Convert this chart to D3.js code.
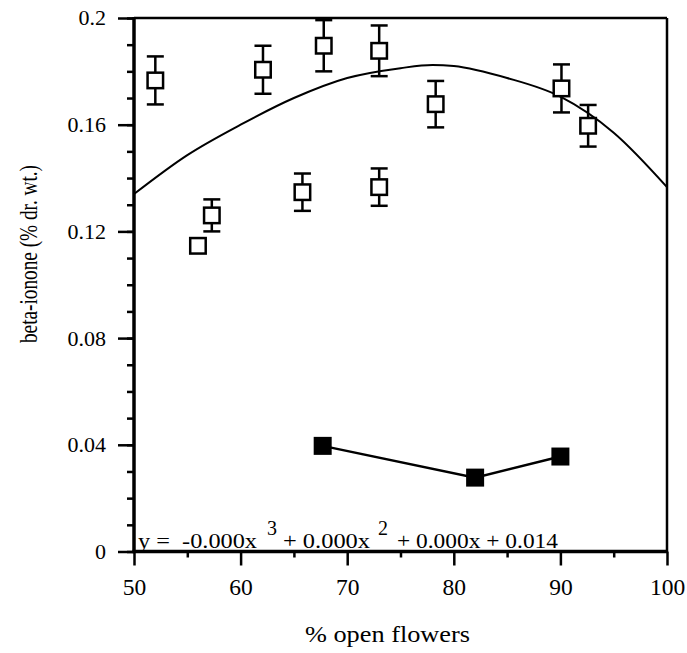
<!DOCTYPE html>
<html>
<head>
<meta charset="utf-8">
<script src="https://cdn.jsdelivr.net/npm/d3@7/dist/d3.min.js"></script>
<style>
  body { margin: 0; background: #fff; }
  svg text { font-family: 'Liberation Serif', 'Times New Roman', 'DejaVu Serif', serif; fill: #000; }
</style>
</head>
<body>
<svg id="chart" width="687" height="653"></svg>
<script>
// open squares (with error bars)
const openX = [52.0, 56.0, 57.3, 62.1, 65.8, 67.8, 73.0, 73.0, 78.3, 90.1, 92.6]
const openY = [0.1766, 0.1146, 0.1260, 0.1806, 0.1347, 0.1896, 0.1877, 0.1366, 0.1677, 0.1736, 0.1596]
const openErr = [0.009, 0, 0.006, 0.009, 0.007, 0.0096, 0.0095, 0.007, 0.0087, 0.009, 0.0078]

// filled squares joined by a line
const filledX = [67.7, 82.0, 90.0]
const filledY = [0.0396, 0.0277, 0.0356]

// fitted curve
const fitX = [50, 55, 60, 65, 70, 75, 78, 80, 85, 90, 95, 100]
const fitY = [0.134, 0.1486, 0.160, 0.170, 0.1775, 0.1812, 0.1824, 0.1820, 0.1775, 0.1705, 0.1570, 0.1366]

const xTicks = [50, 60, 70, 80, 90, 100]
const xTickLabels = ['50', '60', '70', '80', '90', '100']
const yTicks = [0, 0.04, 0.08, 0.12, 0.16, 0.2]
const yTickLabels = ['0', '0.04', '0.08', '0.12', '0.16', '0.2']

const mLeft = 134, mRight = 667, mTop = 18, mBottom = 551.5

const svg = d3.select('#chart')

const x = d3.scaleLinear().domain([50, 100]).range([mLeft, mRight])
const y = d3.scaleLinear().domain([0, 0.2]).range([mBottom, mTop])

// width a number label would have in Times (digits 0.5em, point 0.25em)
const timesWidth = (str, size) => str.split('').reduce((w, c) => w + (c === '.' ? 0.25 : 0.5), 0) * size

// minor ticks
svg.append('g')
  .attr('transform', `translate(${mLeft},0)`)
  .call(d3.axisLeft(y).tickValues(d3.range(0, 0.2001, 0.01)).tickSize(7).tickFormat(''))
  .call(g => g.select('.domain').remove())
  .selectAll('line').attr('stroke-width', 2.5)

svg.append('g')
  .attr('transform', `translate(0,${mBottom})`)
  .call(d3.axisBottom(x).tickValues(d3.range(55, 100, 10)).tickSize(6).tickFormat(''))
  .call(g => g.select('.domain').remove())
  .selectAll('line').attr('stroke-width', 2.5)

// major ticks + labels
const yAxis = svg.append('g')
  .attr('transform', `translate(${mLeft},0)`)
  .call(d3.axisLeft(y).tickValues(yTicks).tickSize(16).tickPadding(12)
    .tickFormat((d, i) => yTickLabels[i]))
yAxis.attr('font-family', null).attr('font-size', null)
yAxis.select('.domain').remove()
yAxis.selectAll('line').attr('stroke-width', 2.5)
yAxis.selectAll('text')
  .attr('font-size', 20.5)
  .attr('dy', '0.34em')
  .attr('textLength', (d, i) => timesWidth(yTickLabels[i], 22))
  .attr('lengthAdjust', 'spacingAndGlyphs')

const xAxis = svg.append('g')
  .attr('transform', `translate(0,${mBottom})`)
  .call(d3.axisBottom(x).tickValues(xTicks).tickSize(14)
    .tickFormat((d, i) => xTickLabels[i]))
xAxis.attr('font-family', null).attr('font-size', null)
xAxis.select('.domain').remove()
xAxis.selectAll('line').attr('stroke-width', 2.5)
xAxis.selectAll('text')
  .attr('font-size', 24)
  .attr('y', 43).attr('dy', 0)
  .attr('textLength', (d, i) => timesWidth(xTickLabels[i], 23.5))
  .attr('lengthAdjust', 'spacingAndGlyphs')

// frame
svg.append('line').attr('x1', mLeft).attr('x2', mRight).attr('y1', mTop).attr('y2', mTop)
  .attr('stroke', '#000').attr('stroke-width', 2.5)
svg.append('line').attr('x1', mRight).attr('x2', mRight).attr('y1', mTop).attr('y2', mBottom)
  .attr('stroke', '#000').attr('stroke-width', 2.5)
svg.append('line').attr('x1', mLeft).attr('x2', mLeft).attr('y1', mTop - 1).attr('y2', mBottom + 1.5)
  .attr('stroke', '#000').attr('stroke-width', 3.5)
svg.append('line').attr('x1', mLeft - 1.5).attr('x2', mRight + 1).attr('y1', mBottom).attr('y2', mBottom)
  .attr('stroke', '#000').attr('stroke-width', 3.5)

// fitted curve
const fit = fitX.map((d, i) => [d, fitY[i]])
svg.append('path')
  .datum(fit)
  .attr('fill', 'none')
  .attr('stroke', '#000')
  .attr('stroke-width', 2)
  .attr('d', d3.line().x(d => x(d[0])).y(d => y(d[1])).curve(d3.curveMonotoneX))

// error bars
const open = openX.map((d, i) => ({ x: d, y: openY[i], e: openErr[i] }))
const eb = svg.append('g').attr('stroke', '#000').attr('stroke-width', 2.5)
open.filter(d => d.e > 0).forEach(d => {
  eb.append('line').attr('x1', x(d.x)).attr('x2', x(d.x))
    .attr('y1', y(d.y + d.e)).attr('y2', y(d.y - d.e))
  eb.append('line').attr('x1', x(d.x) - 8.5).attr('x2', x(d.x) + 8.5)
    .attr('y1', y(d.y + d.e)).attr('y2', y(d.y + d.e))
  eb.append('line').attr('x1', x(d.x) - 8.5).attr('x2', x(d.x) + 8.5)
    .attr('y1', y(d.y - d.e)).attr('y2', y(d.y - d.e))
})

// open squares
const s = 15.5
svg.append('g').selectAll('rect')
  .data(open)
  .enter().append('rect')
  .attr('x', d => x(d.x) - s / 2)
  .attr('y', d => y(d.y) - s / 2)
  .attr('width', s).attr('height', s)
  .attr('fill', '#fff')
  .attr('stroke', '#000')
  .attr('stroke-width', 2.5)

// filled series
const filled = filledX.map((d, i) => [d, filledY[i]])
svg.append('path')
  .datum(filled)
  .attr('fill', 'none')
  .attr('stroke', '#000')
  .attr('stroke-width', 2.5)
  .attr('d', d3.line().x(d => x(d[0])).y(d => y(d[1])))

const fs = 18
svg.append('g').selectAll('rect')
  .data(filled)
  .enter().append('rect')
  .attr('x', d => x(d[0]) - fs / 2)
  .attr('y', d => y(d[1]) - fs / 2)
  .attr('width', fs).attr('height', fs)
  .attr('fill', '#000')

// equation
const eq = svg.append('g').attr('font-size', 20)
const eqParts = [
  { t: 'y =  -0.000x', x: 138, w: 119, sup: false },
  { t: '3', x: 267, w: 10, sup: true },
  { t: '+ 0.000x', x: 283, w: 87, sup: false },
  { t: '2', x: 378, w: 10, sup: true },
  { t: '+ 0.000x + 0.014', x: 397, w: 161, sup: false }
]
eqParts.forEach(p => {
  eq.append('text')
    .attr('x', p.x)
    .attr('y', p.sup ? 535 : 547.5)
    .attr('textLength', p.w)
    .attr('lengthAdjust', 'spacingAndGlyphs')
    .style('white-space', 'pre')
    .text(p.t)
})

// axis titles
svg.append('text')
  .attr('x', 387.5).attr('y', 642)
  .attr('text-anchor', 'middle')
  .attr('font-size', 24)
  .attr('textLength', 165)
  .attr('lengthAdjust', 'spacingAndGlyphs')
  .text('% open flowers')

svg.append('text')
  .attr('transform', 'translate(37,254) rotate(-90)')
  .attr('text-anchor', 'middle')
  .attr('font-size', 25)
  .attr('textLength', 178)
  .attr('lengthAdjust', 'spacingAndGlyphs')
  .text('beta-ionone (% dr. wt.)')
</script>
</body>
</html>
